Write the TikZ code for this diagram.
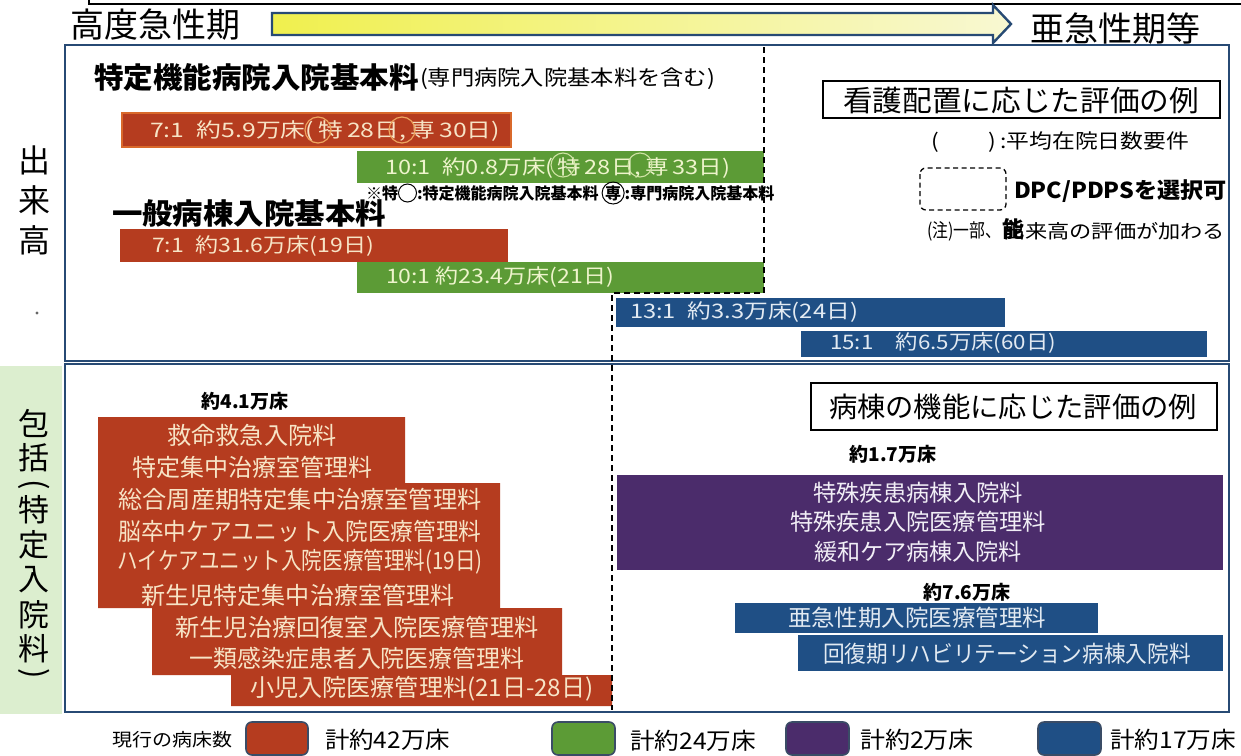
\documentclass[tikz,border=0pt]{standalone}
\usepackage{fontspec}
\setmainfont{Noto Sans CJK JP}
\usepackage{graphicx}

\definecolor{navy}{HTML}{274A74}
\definecolor{barred}{HTML}{B53C1F}
\definecolor{baredge}{HTML}{D9692B}
\definecolor{bargreen}{HTML}{5C9B36}
\definecolor{barblue}{HTML}{1F4F85}
\definecolor{barpurple}{HTML}{4B2C6B}
\definecolor{sidegreen}{HTML}{DCEECF}
\definecolor{txtred}{HTML}{F7E4C6}
\definecolor{txtgreen}{HTML}{EEF4CC}
\definecolor{txtblue}{HTML}{E2EAF2}
\definecolor{txtpurple}{HTML}{F1EEF6}
\definecolor{arrowA}{HTML}{F0F04E}
\definecolor{arrowB}{HTML}{F8F8D2}
\definecolor{ringred}{HTML}{EDA35E}
\definecolor{ringgreen}{HTML}{CFE3A4}
\definecolor{swatchedge}{HTML}{3A4C66}

\newcommand\fs[1]{\fontsize{#1}{#1}\selectfont}
% stretch a text horizontally to a given width (in pt), keeping its height
\newcommand\wbox[2]{\resizebox{#1pt}{\height}{#2}}

\begin{document}
\begin{tikzpicture}[x=1pt,y=-1pt,
  lbl/.style={inner sep=0pt,outer sep=0pt},
  panel/.style={draw=navy,line width=2.8pt},
  dashline/.style={draw=black,line width=1.1pt,dash pattern=on 6pt off 4pt},
  titlebox/.style={draw=black,line width=2.6pt,fill=white},
  rowtxt/.style={lbl,text=txtred,font=\fs{24}},
  bartxt/.style={lbl,anchor=west,font=\fs{20}},
  count/.style={lbl,font=\bfseries\fs{19}},
  sidechar/.style={lbl,font=\fs{32}},
  fnt/.style={lbl,anchor=west,font=\bfseries\fs{16}},
  fring/.style={circle,draw=black,line width=1pt,inner sep=0pt,minimum size=18pt,anchor=west,font=\bfseries\fs{16}},
  swatch/.style={draw=swatchedge,line width=1.6pt,rounded corners=6pt},
  legtxt/.style={lbl,anchor=west,font=\fs{23}}
]
\useasboundingbox (0,0) rectangle (1241,755);
\fill[white] (0,0) rectangle (1241,755);

% frame edge running along the top
\draw[line width=2.6pt] (89,-2) -- (89,4) -- (1243,4);

% phase headings and the arrow between them
\node[lbl,anchor=west,font=\fs{34}] (hA) at (70,25) {高度急性期};
\node[lbl,anchor=west,font=\fs{34}] (hB) at (1030,29) {亜急性期等};
\draw[draw=navy,line width=2.4pt,left color=arrowA,right color=arrowB]
  (272,13) -- (993,13) -- (993,5) -- (1011,24) -- (993,43) -- (993,35) -- (272,35) -- cycle;

% side labels
\fill[sidegreen] (0,366) rectangle (62,714);
\node[sidechar] (s1) at (34,160) {出};
\node[sidechar] (s2) at (34,200) {来};
\node[sidechar] (s3) at (34,240) {高};
\fill[black!60] (37,313) circle (1.6pt);
\node[sidechar,font=\fs{31}] (p1) at (34,423) {包};
\node[sidechar,font=\fs{31}] (p2) at (34,458) {括};
\node[sidechar,font=\fs{31},rotate=-90] (p3) at (34,485) {(};
\node[sidechar,font=\fs{31}] (p4) at (34,510) {特};
\node[sidechar,font=\fs{31}] (p5) at (34,545) {定};
\node[sidechar,font=\fs{31}] (p6) at (34,580) {入};
\node[sidechar,font=\fs{31}] (p7) at (34,615) {院};
\node[sidechar,font=\fs{31}] (p8) at (34,649) {料};
\node[sidechar,font=\fs{31},rotate=-90] (p9) at (34,674) {)};

% ---------- fee-for-service panel ----------
\node[lbl,anchor=west,font=\bfseries\fs{29}] (t1) at (94,77) {\wbox{325}{特定機能病院入院基本料}};
\node[lbl,anchor=west,font=\fs{21}] (t1s) at (420,79) {\wbox{295}{(専門病院入院基本料を含む)}};

\fill[barred] (122,113) rectangle (511,147);
\draw[baredge,line width=1.2pt] (122,113) rectangle (511,147);
\node[bartxt,text=txtred] (bA) at (150,131) {\wbox{350}{7:1\enspace 約5.9万床(\,特\,28日,\,専\,30日)}};
\draw[ringred,line width=1.2pt] (318,130) circle (13);
\draw[ringred,line width=1.2pt] (402,130) circle (13);

\fill[bargreen] (357,151) rectangle (764,183);
\node[bartxt,text=txtgreen] (gA) at (385,168) {\wbox{345}{10:1\enspace 約0.8万床(\,特\,28日,\,専\,33日)}};
\draw[ringgreen,line width=1.1pt] (563,165) circle (12);
\draw[ringgreen,line width=1.1pt] (640,165) circle (12);

% footnote on the two circled marks
\node[fnt] (f1) at (366,193) {※特};
\node[fring] (f2) at (f1.east) {};
\node[fnt] (f3) at (f2.east) {:特定機能病院入院基本料};
\node[fring] (f4) at ([xshift=3pt]f3.east) {専};
\node[fnt] (f5) at (f4.east) {:専門病院入院基本料};

\node[lbl,anchor=west,font=\bfseries\fs{29}] (t2) at (112,213) {\wbox{274}{一般病棟入院基本料}};

\fill[barred] (120,229) rectangle (508,262);
\node[bartxt,text=txtred] (bB) at (152,246) {\wbox{222}{7:1\enspace 約31.6万床(19日)}};
\fill[bargreen] (357,262) rectangle (764,293);
\node[bartxt,text=txtgreen] (gB) at (386,277) {\wbox{228}{10:1 約23.4万床(21日)}};
\fill[barblue] (616,298) rectangle (1005,327);
\node[bartxt,text=txtblue] (uA) at (630,312) {\wbox{228}{13:1\enspace 約3.3万床(24日)}};
\fill[barblue] (801,331) rectangle (1207,357);
\node[bartxt,text=txtblue] (uB) at (830,343) {\wbox{226}{15:1\quad 約6.5万床(60日)}};

% legend of the upper panel
\draw[titlebox] (823,81) rectangle (1220,118);
\node[lbl,font=\fs{29}] (k1) at (1021,100) {\wbox{356}{看護配置に応じた評価の例}};
\node[lbl,anchor=west,font=\fs{20}] (k2) at (931,142) {\wbox{258}{(\hspace{2.2em})\,:平均在院日数要件}};
\draw[black,line width=1.3pt,dash pattern=on 5pt off 3.5pt,rounded corners=6pt] (920,168) rectangle (1006,210);
\node[lbl,anchor=west,font=\bfseries\fs{22}] (k3) at (1014,191) {\wbox{213}{DPC/PDPSを選択可}};
\node[lbl,anchor=west,font=\fs{19}] (k4) at (927,231) {\wbox{74}{(注)一部、}};
\node[lbl,anchor=west,font=\fs{19}] (k4b) at (1003,231) {\wbox{222}{出来高の評価が加わる}};
\node[lbl,font=\bfseries\fs{22}] (k5) at (1013,229) {能};

% ---------- bundled-fee panel ----------
\node[count] (c1) at (245,401) {約4.1万床};
\fill[barred] (98,417) -- (405,417) -- (405,483) -- (500,483) -- (500,608) -- (562,608)
  -- (562,675) -- (612,675) -- (612,706) -- (231,706) -- (231,675) -- (152,675)
  -- (152,608) -- (98,608) -- cycle;
\node[rowtxt] (r1) at (252,435) {\wbox{169}{救命救急入院料}};
\node[rowtxt] (r2) at (252,467) {\wbox{240}{特定集中治療室管理料}};
\node[rowtxt] (r3) at (300,499) {\wbox{363}{総合周産期特定集中治療室管理料}};
\node[rowtxt] (r4) at (300,531) {\wbox{363}{脳卒中ケアユニット入院医療管理料}};
\node[rowtxt] (r5) at (300,562) {\wbox{365}{ハイケアユニット入院医療管理料(19日)}};
\node[rowtxt] (r6) at (298,595) {\wbox{313}{新生児特定集中治療室管理料}};
\node[rowtxt] (r7) at (357,627) {\wbox{363}{新生児治療回復室入院医療管理料}};
\node[rowtxt] (r8) at (357,658) {\wbox{335}{一類感染症患者入院医療管理料}};
\node[rowtxt] (r9) at (422,689) {\wbox{343}{小児入院医療管理料(21日-28日)}};

\draw[titlebox] (811,383) rectangle (1217,430);
\node[lbl,font=\fs{28}] (k6) at (1013,407) {\wbox{368}{病棟の機能に応じた評価の例}};

\node[count] (c2) at (893,454) {約1.7万床};
\fill[barpurple] (617,475) rectangle (1223,570);
\node[rowtxt,text=txtpurple,font=\fs{23}] (v1) at (918,493) {\wbox{210}{特殊疾患病棟入院料}};
\node[rowtxt,text=txtpurple,font=\fs{23}] (v2) at (918,522) {\wbox{256}{特殊疾患入院医療管理料}};
\node[rowtxt,text=txtpurple,font=\fs{23}] (v3) at (918,552) {\wbox{208}{緩和ケア病棟入院料}};

\node[count] (c3) at (967,592) {約7.6万床};
\fill[barblue] (735,603) rectangle (1098,633);
\node[rowtxt,text=txtblue,font=\fs{23}] (w1) at (917,618) {\wbox{258}{亜急性期入院医療管理料}};
\fill[barblue] (798,635) rectangle (1223,671);
\node[rowtxt,text=txtblue,font=\fs{23}] (w2) at (1007,654) {\wbox{368}{回復期リハビリテーション病棟入院料}};

% panels and the dashed border of the DPC/PDPS range
\draw[panel] (65,45) rectangle (1229,361);
\draw[panel] (65,364) rectangle (1229,712);
\draw[dashline] (764,47) -- (764,293) -- (612,293) -- (612,710);

% ---------- current bed counts ----------
\node[lbl,anchor=west,font=\fs{18}] (L0) at (112,740) {\wbox{120}{現行の病床数}};
\draw[swatch,fill=barred] (246,722) rectangle (308,755);
\node[legtxt] (L1) at (325,740) {\wbox{125}{計約42万床}};
\draw[swatch,fill=bargreen] (552,722) rectangle (615,755);
\node[legtxt] (L2) at (630,741) {\wbox{126}{計約24万床}};
\draw[swatch,fill=barpurple] (786,722) rectangle (849,755);
\node[legtxt] (L3) at (860,740) {\wbox{114}{計約2万床}};
\draw[swatch,fill=barblue] (1038,722) rectangle (1101,755);
\node[legtxt] (L4) at (1110,740) {\wbox{126}{計約17万床}};
\end{tikzpicture}
\end{document}
